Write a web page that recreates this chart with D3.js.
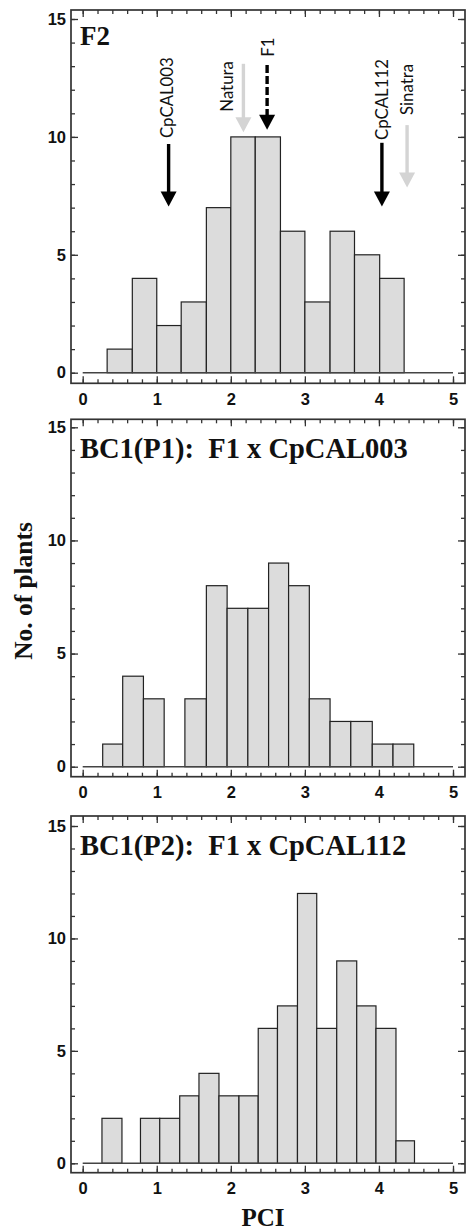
<!DOCTYPE html>
<html>
<head>
<meta charset="utf-8">
<script src="https://cdn.jsdelivr.net/npm/d3@7"></script>
<style>
  html, body { margin: 0; padding: 0; background: #fff; }
  svg { display: block; }
</style>
</head>
<body>
<svg id="chart" width="471" height="1230"></svg>
<script>
// PCI histograms for the F2 and the two backcross populations

// F2 population: bin edges (PCI) and number of plants per bin
const f2Edges = [0.33, 0.67, 1.0, 1.33, 1.67, 2.0, 2.33, 2.67, 3.0, 3.34, 3.67, 4.01, 4.34];
const f2Counts = [1, 4, 2, 3, 7, 10, 10, 6, 3, 6, 5, 4];

// BC1(P1): F1 x CpCAL003
const bc1p1Edges = [0.27, 0.54, 0.82, 1.10, 1.38, 1.67, 1.95, 2.23, 2.51, 2.78, 3.06, 3.34, 3.62, 3.91, 4.19, 4.47];
const bc1p1Counts = [1, 4, 3, 0, 3, 8, 7, 7, 9, 8, 3, 2, 2, 1, 1];

// BC1(P2): F1 x CpCAL112
const bc1p2Edges = [0.26, 0.53, 0.78, 1.04, 1.31, 1.57, 1.84, 2.11, 2.37, 2.63, 2.90, 3.16, 3.43, 3.70, 3.96, 4.23, 4.48];
const bc1p2Counts = [2, 0, 2, 2, 3, 4, 3, 3, 6, 7, 12, 6, 9, 7, 6, 1];

// Parental / F1 reference markers drawn on the F2 panel (PCI, arrow top and tip in plant counts)
const markerNames = ["CpCAL003", "Natura", "F1", "CpCAL112", "Sinatra"];
const markerPCI   = [1.16, 2.17, 2.49, 4.04, 4.38];
const markerTop   = [9.7, 13.1, 13.05, 9.75, 10.5];
const markerTip   = [7.05, 10.2, 10.3, 7.05, 7.85];
const markerLabelPCI = [1.14, 1.95, 2.50, 4.04, 4.38];
const markerLabelBase = [9.95, 11.07, 13.4, 9.87, 10.93];
const markerKind  = ["black", "gray", "dashed", "black", "gray"];

// Axis ticks
const xMajorTicks = [0, 1, 2, 3, 4, 5];
const xMinorTicks = d3.range(0, 5.001, 0.2);
const yMajorTicks = [0, 5, 10, 15];
const yMinorTicks = d3.range(0, 15.001, 1);

const svg = d3.select("#chart");

const frameLeft = 71, frameRight = 465;
const x = d3.scaleLinear().domain([0, 5]).range([82.7, 453]);

const panels = [
  { title: "F2", titleSize: 27, titleY: 45, edges: f2Edges, counts: f2Counts,
    frameTop: 10, frameBottom: 383.3, yRange: [372.7, 19], markers: true },
  { title: "BC1(P1):\u00a0\u00a0F1 x CpCAL003", titleSize: 28.5, titleY: 458, edges: bc1p1Edges, counts: bc1p1Counts,
    frameTop: 419.3, frameBottom: 776.7, yRange: [766.7, 427.3] },
  { title: "BC1(P2):\u00a0\u00a0F1 x CpCAL112", titleSize: 28.5, titleY: 855, edges: bc1p2Edges, counts: bc1p2Counts,
    frameTop: 816, frameBottom: 1172.7, yRange: [1163.3, 826] }
];

const tickFont = "'Liberation Sans', Arial, sans-serif";
const serifFont = "'Liberation Serif', 'Times New Roman', serif";
const frameColor = "#333";

panels.forEach(p => {
  const y = d3.scaleLinear().domain([0, 15]).range(p.yRange);
  const g = svg.append("g");

  // Histogram bars
  const bins = p.counts.map((c, i) => ({ x0: p.edges[i], x1: p.edges[i + 1], n: c }))
                       .filter(b => b.n > 0);
  g.append("g").selectAll("rect").data(bins).join("rect")
    .attr("x", d => x(d.x0))
    .attr("y", d => y(d.n))
    .attr("width", d => x(d.x1) - x(d.x0))
    .attr("height", d => y(0) - y(d.n))
    .attr("fill", "#dcdcdc")
    .attr("stroke", "#222")
    .attr("stroke-width", 1.2);

  // Zero line across the PCI range
  g.append("line")
    .attr("x1", x(0)).attr("x2", x(5))
    .attr("y1", y(0)).attr("y2", y(0))
    .attr("stroke", "#444").attr("stroke-width", 1.5);

  // Ticks on all four sides, pointing inward
  const addAxis = (axis, tx, ty, labels) => {
    const a = g.append("g").attr("transform", `translate(${tx},${ty})`).call(axis);
    a.select(".domain").remove();
    a.selectAll(".tick line").attr("stroke", frameColor).attr("stroke-width", 1.3);
    if (labels) {
      a.selectAll(".tick text")
        .attr("fill", "#111")
        .style("font-family", tickFont)
        .style("font-weight", "bold")
        .style("font-size", "16.5px");
    } else {
      a.selectAll(".tick text").remove();
    }
  };

  addAxis(d3.axisBottom(x).tickValues(xMinorTicks).tickSize(-4).tickFormat(""), 0, p.frameBottom, false);
  addAxis(d3.axisBottom(x).tickValues(xMajorTicks).tickSize(-7).tickPadding(10).tickFormat(d3.format("d")), 0, p.frameBottom, true);
  addAxis(d3.axisTop(x).tickValues(xMinorTicks).tickSize(-4).tickFormat(""), 0, p.frameTop, false);
  addAxis(d3.axisTop(x).tickValues(xMajorTicks).tickSize(-7).tickFormat(""), 0, p.frameTop, false);

  addAxis(d3.axisLeft(y).tickValues(yMinorTicks).tickSize(-4).tickFormat(""), frameLeft, 0, false);
  addAxis(d3.axisLeft(y).tickValues(yMajorTicks).tickSize(-7).tickPadding(5).tickFormat(d3.format("d")), frameLeft, 0, true);
  addAxis(d3.axisRight(y).tickValues(yMinorTicks).tickSize(-4).tickFormat(""), frameRight, 0, false);
  addAxis(d3.axisRight(y).tickValues(yMajorTicks).tickSize(-7).tickFormat(""), frameRight, 0, false);

  // Frame
  g.append("rect")
    .attr("x", frameLeft).attr("y", p.frameTop)
    .attr("width", frameRight - frameLeft).attr("height", p.frameBottom - p.frameTop)
    .attr("fill", "none").attr("stroke", frameColor).attr("stroke-width", 1.7);

  // Panel title
  g.append("text")
    .attr("x", 80).attr("y", p.titleY)
    .attr("fill", "#111")
    .style("font-family", serifFont)
    .style("font-weight", "bold")
    .style("font-size", p.titleSize + "px")
    .text(p.title);

  if (p.markers) {
    const mg = g.append("g");
    markerNames.forEach((name, i) => {
      const kind = markerKind[i];
      const col = kind === "gray" ? "#d4d4d4" : "#000";
      const px = x(markerPCI[i]);
      const yTop = y(markerTop[i]);
      const yTip = y(markerTip[i]);
      const headLen = 15, headHalf = 8;

      mg.append("line")
        .attr("x1", px).attr("x2", px)
        .attr("y1", yTop).attr("y2", yTip - headLen + 1)
        .attr("stroke", col)
        .attr("stroke-width", 3.4)
        .attr("stroke-dasharray", kind === "dashed" ? "8,3" : null);

      mg.append("path")
        .attr("d", `M${px - headHalf},${yTip - headLen}L${px + headHalf},${yTip - headLen}L${px},${yTip}Z`)
        .attr("fill", col);

      const lx = x(markerLabelPCI[i]);
      const ly = y(markerLabelBase[i]);
      mg.append("text")
        .attr("transform", `translate(${lx},${ly}) rotate(-90)`)
        .attr("dy", "0.35em")
        .attr("text-anchor", "start")
        .attr("fill", "#111")
        .style("font-family", "Lato, 'Open Sans', sans-serif")
        .style("font-size", "16.8px")
        .text(name);
    });
  }
});

// Shared axis titles
svg.append("text")
  .attr("transform", `translate(23,591) rotate(-90)`)
  .attr("text-anchor", "middle")
  .attr("dy", "0.35em")
  .attr("fill", "#111")
  .style("font-family", serifFont)
  .style("font-weight", "bold")
  .style("font-size", "25.4px")
  .text("No. of plants");

svg.append("text")
  .attr("x", 263).attr("y", 1226)
  .attr("text-anchor", "middle")
  .attr("fill", "#111")
  .style("font-family", serifFont)
  .style("font-weight", "bold")
  .style("font-size", "25px")
  .text("PCI");
</script>
</body>
</html>
